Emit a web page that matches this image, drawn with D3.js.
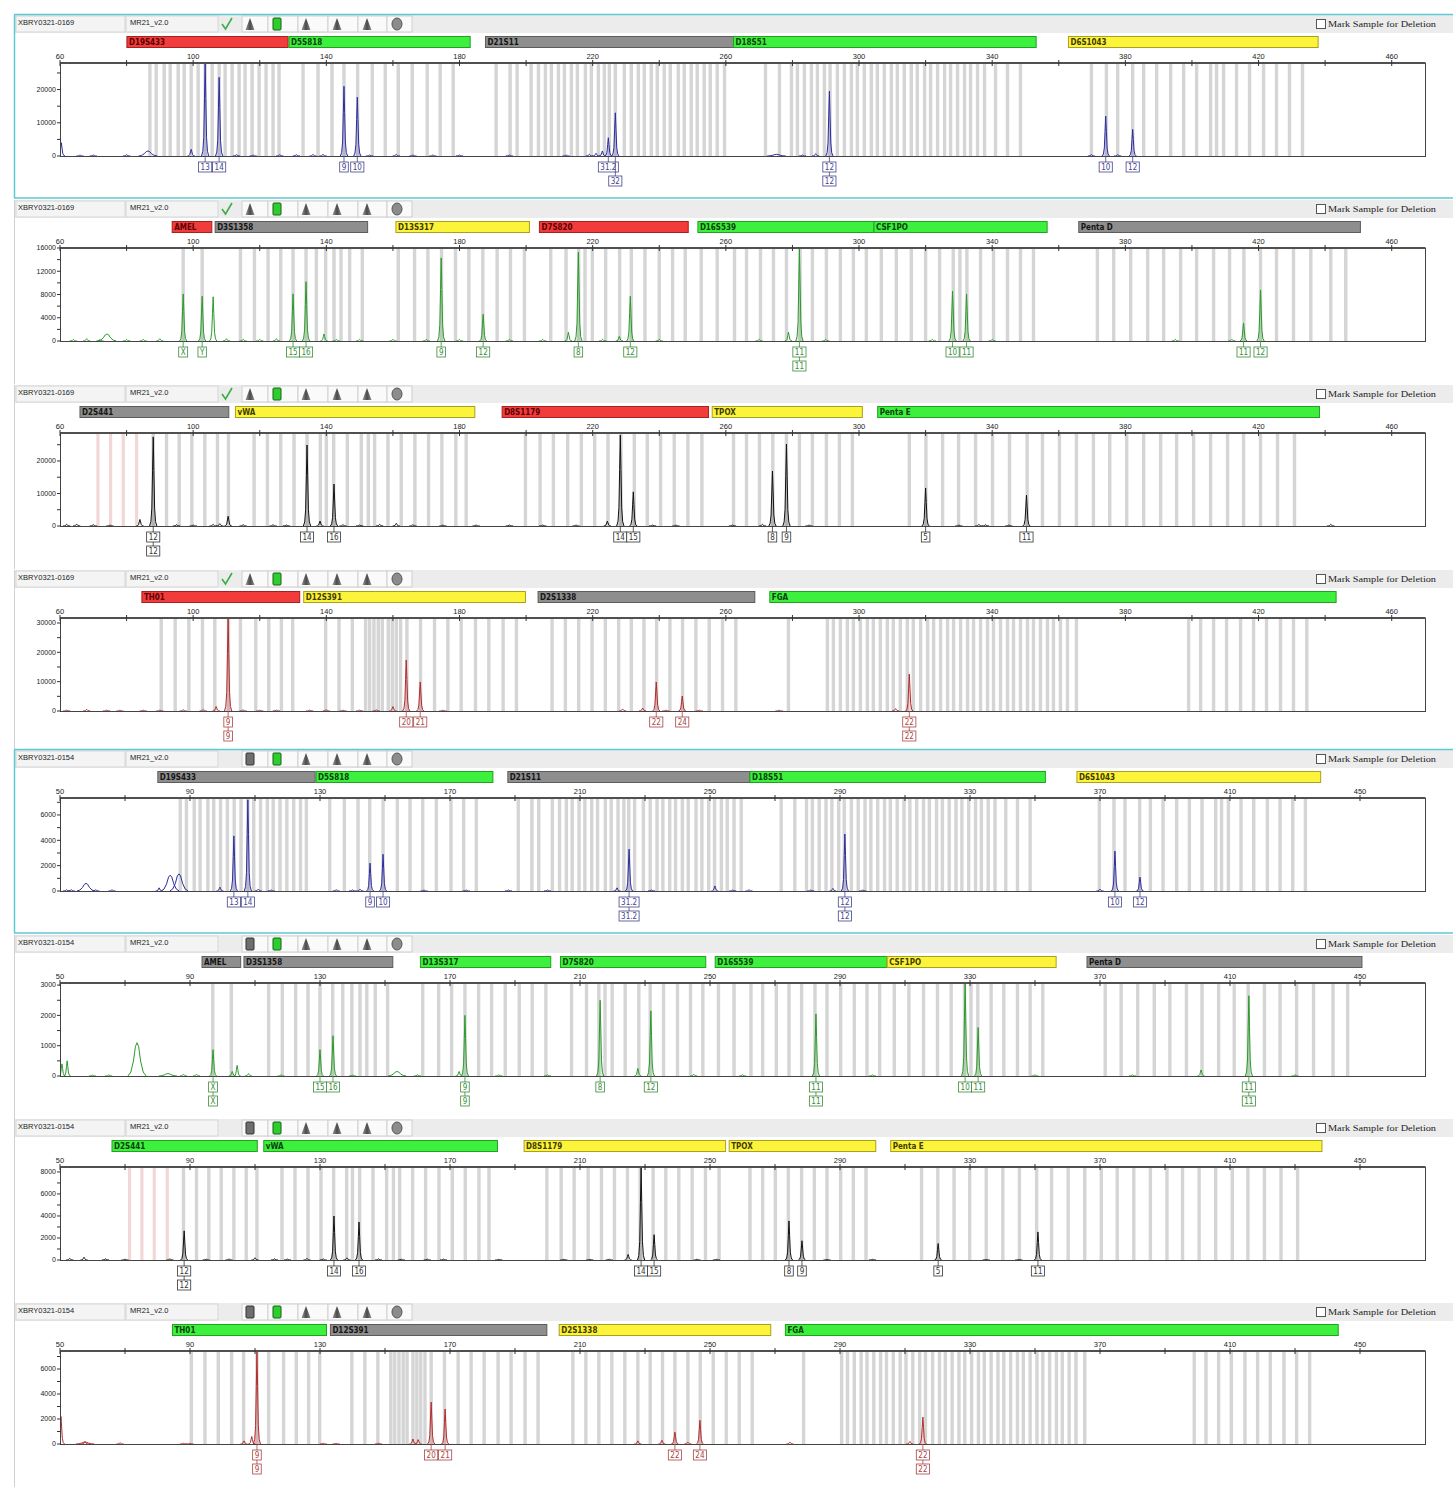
<!DOCTYPE html>
<html>
<head>
<meta charset="utf-8">
<script src="https://cdn.jsdelivr.net/npm/d3@7"></script>
<style>
  body { margin: 0; background: #fff; }
  svg { display: block; }
</style>
</head>
<body>
<script>
//global variables
var w = 1453;
var h = 1498;
var plotLeft = 60;
var plotRight = 1425;
var panelTops = [15, 200, 385, 570, 750, 935, 1119, 1303];

//sample + kit names
var sampleNames = ["XBRY0321-0169", "XBRY0321-0169", "XBRY0321-0169", "XBRY0321-0169",
                   "XBRY0321-0154", "XBRY0321-0154", "XBRY0321-0154", "XBRY0321-0154"];
var kitName = "MR21_v2.0";

//x axis (size in bp)
var xDomainA = [60, 470];
var xDomainB = [50, 470];
var xLabelsA = [60, 100, 140, 180, 220, 260, 300, 340, 380, 420, 460];
var xLabelsB = [50, 90, 130, 170, 210, 250, 290, 330, 370, 410, 450];

//y axis (RFU)
var yMaxes = [28000, 16000, 28600, 31700, 7340, 3070, 8450, 7440];
var yLabels1 = [0, 10000, 20000];
var yLabels2 = [0, 4000, 8000, 12000, 16000];
var yLabels3 = [0, 10000, 20000];
var yLabels4 = [0, 10000, 20000, 30000];
var yLabels5 = [0, 2000, 4000, 6000];
var yLabels6 = [0, 1000, 2000, 3000];
var yLabels7 = [0, 2000, 4000, 6000, 8000];
var yLabels8 = [0, 2000, 4000, 6000];

//markers per dye channel: [name, start bp, end bp]
var markersBlue = [["D19S433", 80.1, 128.5], ["D5S818", 128.8, 183.2], ["D21S11", 187.8, 262.3],
                   ["D18S51", 262.3, 353.2], ["D6S1043", 362.9, 437.9]];
var markersGreen = [["AMEL", 93.7, 105.6], ["D3S1358", 106.6, 152.4], ["D13S317", 160.9, 201.0],
                    ["D7S820", 204.0, 248.7], ["D16S539", 251.6, 304.5], ["CSF1PO", 304.5, 356.5],
                    ["Penta D", 366.0, 450.6]];
var markersBlack = [["D2S441", 66.0, 110.7], ["vWA", 112.7, 184.6], ["D8S1179", 192.8, 254.8],
                    ["TPOX", 255.9, 301.0], ["Penta E", 305.6, 438.3]];
var markersRed = [["TH01", 84.6, 132.0], ["D12S391", 133.2, 199.8], ["D2S1338", 203.6, 268.7],
                  ["FGA", 273.2, 443.3]];

//marker status colours per panel
var markerColors1 = ["red", "green", "gray", "green", "yellow"];
var markerColors2 = ["red", "gray", "yellow", "red", "green", "green", "gray"];
var markerColors3 = ["gray", "yellow", "red", "yellow", "green"];
var markerColors4 = ["red", "yellow", "gray", "green"];
var markerColors5 = ["gray", "green", "gray", "green", "yellow"];
var markerColors6 = ["gray", "gray", "green", "green", "green", "yellow", "gray"];
var markerColors7 = ["green", "green", "yellow", "yellow", "yellow"];
var markerColors8 = ["green", "gray", "yellow", "green"];

//allele bins (bp) per dye channel
var binsBlue = [87.0, 88.9, 91.3, 93.1, 95.5, 97.3, 99.4, 101.5, 103.6, 105.7, 107.8, 109.6, 111.7, 113.8,
  115.6, 117.7, 119.8, 121.9, 124.0, 125.8,
  133.0, 137.5, 141.7, 145.3, 149.4, 153.8, 157.7, 161.6, 165.8, 170.3, 174.2, 178.1,
  191.0, 195.2, 197.3, 201.5, 203.7, 205.8, 207.6, 209.7, 211.5, 213.6, 215.4, 217.8, 219.6, 221.7,
  223.5, 225.0, 226.8, 229.5, 231.6, 233.7, 235.5, 237.6, 239.4, 241.5, 243.3, 245.7, 247.5, 249.6,
  251.4, 253.5, 255.3, 257.4, 259.6,
  271.9, 276.1, 279.7, 281.5, 283.6, 285.7, 287.5, 289.6, 291.3, 293.5, 295.6, 297.7, 299.5, 301.6,
  303.7, 305.5, 307.6, 309.7, 311.5, 313.6, 315.7, 317.5, 319.7, 321.5, 323.6, 325.7, 327.5, 329.6,
  331.7, 333.5, 335.6, 337.7, 341.0, 344.6, 348.5,
  369.8, 374.3, 377.7, 382.2, 385.5, 389.4, 393.6, 397.5, 401.4, 405.6, 407.4, 409.5, 413.4, 417.3,
  421.5, 425.4, 429.3, 433.2];
var binsGreen = [97.0, 102.7,
  114.2, 118.4, 122.5, 126.3, 130.0, 133.9, 137.0, 139.8, 142.3, 144.4, 147.0, 150.8,
  161.6, 166.5, 170.5, 174.6, 178.8, 182.8, 187.0, 191.3, 195.3, 199.5,
  207.4, 212.0, 215.8, 217.7, 219.9, 223.9, 228.1, 231.6, 235.7, 240.0, 244.0, 247.8,
  252.6, 257.4, 262.6, 266.2, 270.4, 274.3, 278.2, 282.3, 286.0, 290.2, 294.4, 298.3, 302.2,
  306.7, 311.2, 315.7, 320.0, 324.2, 328.3, 330.3, 332.4, 336.5, 340.4, 344.6, 348.5, 352.4,
  371.6, 376.5, 381.6, 386.7, 391.5, 396.6, 401.4, 406.5, 411.3, 415.6, 420.6, 425.4, 430.5, 435.7,
  441.7, 446.2];
var binsBlackVirtual = [71.4, 75.2, 79.0, 83.0];
var binsBlack = [88.0, 92.0, 95.8, 99.6, 103.5, 107.3, 110.6,
  118.3, 122.3, 126.3, 130.3, 134.2, 138.2, 140.0, 142.2, 146.3, 150.5, 152.6, 154.5, 158.5, 162.5,
  166.6, 170.7, 174.7, 178.9, 182.0,
  199.8, 204.2, 208.2, 212.5, 216.6, 220.6, 224.6, 228.5, 232.5, 236.4, 240.4, 244.5, 248.6, 252.8,
  262.3, 266.2, 270.1, 274.1, 278.2, 282.1, 286.0, 290.2, 294.1, 298.0,
  315.1, 320.1, 325.1, 329.9, 335.0, 340.1, 345.2, 350.5, 355.1, 360.2, 365.3, 370.4, 375.3, 380.4,
  385.5, 390.6, 395.4, 400.5, 405.6, 410.7, 415.5, 420.6, 425.7, 430.8];
var binsRed = [90.4, 94.6, 98.7, 102.8, 106.5, 110.6, 114.2, 118.8, 122.7, 126.5, 129.9,
  139.8, 143.8, 147.8, 151.8, 153.0, 154.3, 155.6, 156.8, 158.6, 159.8, 161.0, 162.3, 164.2, 168.3,
  172.5, 176.5, 180.5, 184.8, 188.8, 193.1, 197.1,
  207.8, 211.8, 215.8, 219.8, 223.8, 227.8, 231.6, 235.4, 239.2, 243.2, 247.0, 251.0, 255.0, 259.0, 263.0,
  278.8, 290.5, 292.3, 294.4, 296.5, 298.3, 300.4, 302.5, 304.3, 306.4, 308.5, 310.3, 312.4, 314.5,
  316.3, 318.5, 320.6, 322.4, 324.5, 326.6, 328.4, 330.5, 332.6, 334.4, 336.5, 338.6, 340.4, 342.5,
  344.6, 346.4, 348.5, 350.6, 352.4, 354.5, 356.6, 358.4, 360.5, 362.6, 365.3,
  399.0, 402.6, 406.5, 410.4, 414.6, 418.5, 422.4, 426.6, 430.5, 434.5];

//peaks per panel: [size bp, height RFU, allele call, second call]
var peaks1 = [[60.4, 4000], [99.4, 2000], [103.6, 28000, "13"], [107.8, 23700, "14"],
  [145.3, 21000, "9"], [149.3, 17700, "10"], [222.9, 1500], [224.7, 5500, "31.2"], [226.8, 13000, "", "32"],
  [291.1, 19500, "12", "12"], [374.1, 12000, "10"], [382.2, 8000, "12"],
  [66, 300], [70, 300], [80, 400], [113, 400], [118, 300], [126, 400], [131, 400], [136, 500], [139, 500],
  [153, 300], [161, 500], [166, 300], [172, 300], [180, 300], [195, 300], [212, 300], [219, 500],
  [221, 800], [283, 300], [287, 700], [369.8, 400], [377.7, 400]];
var bumps1 = [[86.4, 1500], [275.2, 500]];

var peaks2 = [[97.0, 8100, "X"], [102.7, 7700, "Y"], [106.0, 7600], [130.0, 8100, "15"],
  [133.9, 10200, "16"], [139.3, 1200], [174.5, 14300, "9"], [187.1, 4600, "12"], [212.7, 1500],
  [215.7, 15300, "8"], [228.0, 800], [231.3, 7700, "12"], [278.8, 1500], [282.1, 15800, "11", "11"],
  [328.1, 8600, "10"], [332.3, 8100, "11"], [415.5, 3100, "11"], [420.6, 8800, "12"],
  [64, 300], [68, 400], [72, 300], [80, 300], [85, 300], [90, 400], [110, 400], [115, 300], [120, 300],
  [125, 400], [143, 300], [150, 300], [160, 300], [170, 300], [180, 300], [195, 300], [205, 300],
  [223, 300], [240, 300], [270, 300], [290, 300], [322, 300], [340, 300], [395, 300], [412, 300]];
var bumps2 = [[74.1, 1200]];

var peaks3 = [[84.0, 2000], [88.0, 27400, "12", "12"], [110.5, 3000], [134.2, 24900, "14"],
  [138.1, 1500], [142.3, 12900, "16"], [161.0, 800], [224.4, 1500], [228.3, 28000, "14"],
  [232.2, 10500, "15"], [274.0, 16900, "8"], [278.2, 25200, "9"], [320.0, 11700, "5"],
  [350.3, 9500, "11"], [441.7, 500],
  [62, 500], [65, 600], [70, 400], [75, 300], [95, 400], [100, 300], [106, 500], [108, 700], [115, 400],
  [124, 400], [128, 300], [145, 400], [150, 300], [156, 500], [166, 400], [175, 300], [185, 300],
  [195, 300], [205, 300], [215, 300], [238, 300], [245, 300], [262, 300], [271, 500], [285, 300],
  [330, 300], [336, 500], [338, 400], [345, 300]];
var bumps3 = [];

var peaks4 = [[68.0, 600], [106.9, 1500], [110.5, 31700, "9", "9"], [160.0, 1500], [164.0, 17400, "20"],
  [168.2, 9900, "21"], [229.0, 700], [235.0, 1000], [239.1, 9900, "22"], [246.9, 5100, "24"],
  [311.0, 800], [315.1, 12600, "22", "22"],
  [62, 300], [74, 300], [78, 300], [85, 300], [90, 300], [97, 400], [103, 500], [115, 400], [120, 300],
  [125, 300], [135, 300], [140, 400], [145, 300], [150, 300], [155, 400], [175, 300], [242, 300],
  [252, 300], [276, 300]];
var bumps4 = [];

var peaks5 = [[99.2, 300], [103.5, 4350, "13"], [107.8, 7200, "14"], [142.3, 150], [145.4, 2200, "9"],
  [149.4, 2900, "10"], [221.4, 250], [225.1, 3300, "31.2", "31.2"], [251.5, 400], [287.8, 200],
  [291.5, 4500, "12", "12"], [370.0, 150], [374.6, 3150, "10"], [382.3, 1100, "12"],
  [52, 100], [53.5, 100], [61, 100], [66, 100], [80.5, 250], [111, 150], [115, 80], [135, 100],
  [140, 80], [162, 80], [175, 80], [188, 80], [200, 80], [232, 80], [257, 80], [262, 100], [281, 80],
  [297, 80]];
var bumps5 = [[58.0, 600], [83.9, 1250], [86.6, 1350]];

var peaks6 = [[50.6, 400], [52.2, 500], [97.1, 870, "X", "X"], [103.0, 150], [104.5, 350],
  [130.0, 870, "15"], [134.0, 1330, "16"], [172.8, 150], [174.6, 2000, "9", "9"], [216.2, 2500, "8"],
  [227.8, 250], [231.8, 2150, "12"], [282.6, 2050, "11", "11"], [328.5, 3100, "10"],
  [332.5, 1600, "11"], [401.1, 200], [415.8, 2650, "11", "11"],
  [60, 30], [65, 40], [88, 60], [92, 60], [108, 80], [118, 40], [140, 30], [160, 40], [185, 40],
  [200, 40], [245, 60], [260, 40], [300, 40], [350, 40], [380, 40], [430, 40]];
var bumps6 = [[73.7, 1100], [153.7, 150], [83.2, 80]];

var peaks7 = [[53, 150], [57.4, 250], [83.8, 100], [88.2, 2650, "12", "12"], [110, 200],
  [134.3, 4000, "14"], [138.3, 200], [142.0, 3450, "16"], [224.8, 500], [228.8, 8400, "14"],
  [232.8, 2300, "15"], [274.3, 3550, "8"], [278.3, 1750, "9"], [320.2, 1500, "5"], [350.9, 2550, "11"],
  [64, 100], [70, 80], [95, 80], [102, 100], [116, 100], [120, 80], [126, 150], [131, 100], [148, 100],
  [155, 80], [163, 80], [168, 80], [185, 60], [205, 60], [213, 60], [219, 80], [246, 80], [252, 60],
  [286, 60], [300, 60], [335, 50], [345, 50]];
var bumps7 = [];

var peaks8 = [[50.3, 2200], [57.7, 200], [68.5, 100], [106.6, 250], [109.0, 600], [110.6, 7400, "9", "9"],
  [158.6, 400], [160.2, 350], [164.2, 3350, "20"], [168.5, 2800, "21"], [227.8, 250], [235.2, 300],
  [239.2, 950, "22"], [243.2, 150], [246.9, 1900, "24"], [274.6, 150], [311.5, 200],
  [315.5, 2150, "22", "22"], [88, 60], [90, 60], [131, 60], [135, 50], [148, 60]];
var bumps8 = [[57.7, 150]];

//dye channels: blue, green, black, red
var channelMarkers = [markersBlue, markersGreen, markersBlack, markersRed];
var channelBins = [binsBlue, binsGreen, binsBlack, binsRed];
var traceColors = ["#2c2c9e", "#2a9a2a", "#111111", "#b42a2a"];
var labelColors = ["#44448a", "#3a8a3a", "#333333", "#a84444"];
var fillColors = { red:    { fill: "#f23c3c", stroke: "#a52020", text: "#5a0000" },
                   green:  { fill: "#3ef03e", stroke: "#22a022", text: "#0a400a" },
                   gray:   { fill: "#8e8e8e", stroke: "#5c5c5c", text: "#151515" },
                   yellow: { fill: "#fcf43a", stroke: "#aaa020", text: "#403a00" } };

//table of panels built from the arrays above
var panels = [
  { dye: 0, domain: xDomainA, xLabels: xLabelsA, yLabels: yLabels1, colors: markerColors1, peaks: peaks1, bumps: bumps1 },
  { dye: 1, domain: xDomainA, xLabels: xLabelsA, yLabels: yLabels2, colors: markerColors2, peaks: peaks2, bumps: bumps2 },
  { dye: 2, domain: xDomainA, xLabels: xLabelsA, yLabels: yLabels3, colors: markerColors3, peaks: peaks3, bumps: bumps3 },
  { dye: 3, domain: xDomainA, xLabels: xLabelsA, yLabels: yLabels4, colors: markerColors4, peaks: peaks4, bumps: bumps4 },
  { dye: 0, domain: xDomainB, xLabels: xLabelsB, yLabels: yLabels5, colors: markerColors5, peaks: peaks5, bumps: bumps5 },
  { dye: 1, domain: xDomainB, xLabels: xLabelsB, yLabels: yLabels6, colors: markerColors6, peaks: peaks6, bumps: bumps6 },
  { dye: 2, domain: xDomainB, xLabels: xLabelsB, yLabels: yLabels7, colors: markerColors7, peaks: peaks7, bumps: bumps7 },
  { dye: 3, domain: xDomainB, xLabels: xLabelsB, yLabels: yLabels8, colors: markerColors8, peaks: peaks8, bumps: bumps8 }
];

//peak outline: offsets (bp) and fraction of height
var narrowShape = [[-1.1, 0], [-0.7, 0.05], [-0.42, 0.2], [-0.2, 0.62], [0, 1],
                   [0.2, 0.62], [0.42, 0.2], [0.7, 0.05], [1.1, 0]];
var broadShape = [[-2.8, 0], [-1.9, 0.12], [-1.1, 0.45], [-0.5, 0.88], [0, 1],
                  [0.5, 0.88], [1.1, 0.45], [1.9, 0.12], [2.8, 0]];

var sansFont = "'Liberation Sans', Arial, sans-serif";
var narrowFont = "'Liberation Sans Narrow', 'DejaVu Sans Condensed', 'Arial Narrow', sans-serif";

//Create SVG element
var svg = d3.select("body")
  .append("svg")
  .attr("width", w)
  .attr("height", h);

svg.append("rect").attr("width", w).attr("height", h).attr("fill", "#fff");

var defs = svg.append("defs");
var cone = defs.append("linearGradient").attr("id", "cone");
cone.append("stop").attr("offset", "0%").attr("stop-color", "#9a9a9a");
cone.append("stop").attr("offset", "50%").attr("stop-color", "#4a4a4a");
cone.append("stop").attr("offset", "100%").attr("stop-color", "#8a8a8a");

function drawHeader(g, t, i) {
  g.append("rect").attr("x", 15).attr("y", t).attr("width", 1438).attr("height", 18)
    .attr("fill", "#ececec");
  g.append("rect").attr("x", 16).attr("y", t + 1).attr("width", 109).attr("height", 16)
    .attr("fill", "#f4f4f4").attr("stroke", "#d6d6d6");
  g.append("rect").attr("x", 126).attr("y", t + 1).attr("width", 92).attr("height", 16)
    .attr("fill", "#f4f4f4").attr("stroke", "#d6d6d6");
  g.append("text").attr("x", 18).attr("y", t + 10).text(sampleNames[i])
    .attr("font-family", sansFont).attr("font-size", "7.5px").attr("fill", "#222");
  g.append("text").attr("x", 130).attr("y", t + 10).text(kitName)
    .attr("font-family", sansFont).attr("font-size", "7.5px").attr("fill", "#222");

  //tool icons
  var cellLefts = [242, 268, 298, 328, 358, 387];
  var cellRight = 412;
  cellLefts.forEach(function(cx, k) {
    var next = k < cellLefts.length - 1 ? cellLefts[k + 1] : cellRight;
    g.append("rect").attr("x", cx).attr("y", t + 1).attr("width", next - cx).attr("height", 16)
      .attr("fill", "#fafafa").attr("stroke", "#cfcfcf");
  });
  var cy = t + 9;
  if (i < 4) {
    g.append("path").attr("d", "M222," + cy + " L225.5," + (cy + 5) + " L232," + (cy - 6))
      .attr("fill", "none").attr("stroke", "#3cae45").attr("stroke-width", 1.6);
    cone_icon(g, 250, cy);
  } else {
    g.append("rect").attr("x", 246).attr("y", cy - 6).attr("width", 8).attr("height", 12)
      .attr("fill", "#6e6e6e").attr("stroke", "#333").attr("rx", 1);
  }
  g.append("rect").attr("x", 273).attr("y", cy - 6).attr("width", 8).attr("height", 12)
    .attr("fill", "#2ccf2c").attr("stroke", "#1d5e1d").attr("rx", 1);
  cone_icon(g, 306, cy);
  cone_icon(g, 337, cy);
  cone_icon(g, 367, cy);
  g.append("ellipse").attr("cx", 397).attr("cy", cy).attr("rx", 5).attr("ry", 6)
    .attr("fill", "#8c8c8c").attr("stroke", "#555");

  //deletion checkbox
  g.append("rect").attr("x", 1316.5).attr("y", t + 4.5).attr("width", 9).attr("height", 9)
    .attr("fill", "#fff").attr("stroke", "#555");
  g.append("text").attr("x", 1328).attr("y", t + 12).text("Mark Sample for Deletion")
    .attr("font-family", "'Liberation Serif', 'DejaVu Serif', serif").attr("font-size", "9px")
    .attr("textLength", 108).attr("lengthAdjust", "spacingAndGlyphs").attr("fill", "#222");
}

function cone_icon(g, cx, cy) {
  g.append("path")
    .attr("d", "M" + cx + "," + (cy - 6) + " L" + (cx + 4.5) + "," + (cy + 6) + " L" + (cx - 4.5) + "," + (cy + 6) + " Z")
    .attr("fill", "url(#cone)");
}

function drawPanel(p, i) {
  var t = panelTops[i];
  var g = svg.append("g");
  var top = t + 48;
  var base = t + 141;

  var xScale = d3.scaleLinear().domain(p.domain).range([plotLeft, plotRight]);
  var yScale = d3.scaleLinear().domain([0, yMaxes[i]]).range([base, top]);

  drawHeader(g, t, i);

  //panel frame
  if (i === 0 || i === 4) {
    g.append("line").attr("x1", 14).attr("x2", w).attr("y1", t - 0.5).attr("y2", t - 0.5)
      .attr("stroke", "#5fc8d2").attr("stroke-width", 1.5);
    g.append("line").attr("x1", 14).attr("x2", w).attr("y1", t + 183).attr("y2", t + 183)
      .attr("stroke", "#5fc8d2").attr("stroke-width", 1.5);
    g.append("line").attr("x1", 14.5).attr("x2", 14.5).attr("y1", t).attr("y2", t + 183)
      .attr("stroke", "#5fc8d2").attr("stroke-width", 1.5);
  } else {
    g.append("line").attr("x1", 14.5).attr("x2", 14.5).attr("y1", t).attr("y2", t + 184)
      .attr("stroke", "#d0d0d0");
  }

  //marker bars
  var markers = channelMarkers[p.dye];
  markers.forEach(function(m, k) {
    var c = fillColors[p.colors[k]];
    g.append("rect")
      .attr("x", xScale(m[1])).attr("y", t + 21.5)
      .attr("width", xScale(m[2]) - xScale(m[1])).attr("height", 11)
      .attr("fill", c.fill).attr("stroke", c.stroke);
    g.append("text")
      .attr("x", xScale(m[1]) + 2).attr("y", t + 30)
      .text(m[0])
      .attr("font-family", narrowFont).attr("font-weight", "bold")
      .attr("font-size", "8px").attr("fill", c.text);
  });

  //plot background
  g.append("rect").attr("x", plotLeft).attr("y", top).attr("width", plotRight - plotLeft)
    .attr("height", base - top).attr("fill", "#fff");

  //bins
  if (p.dye === 2) {
    g.selectAll("rect.vbin").data(binsBlackVirtual).enter().append("rect")
      .attr("class", "vbin")
      .attr("x", function(d) { return xScale(d) - 1.6; })
      .attr("y", top).attr("width", 3.2).attr("height", base - top)
      .attr("fill", "#f3d7d7");
  }
  g.selectAll("rect.bin").data(channelBins[p.dye]).enter().append("rect")
    .attr("class", "bin")
    .attr("x", function(d) { return xScale(d) - 1.7; })
    .attr("y", top).attr("width", 3.4).attr("height", base - top)
    .attr("fill", "#d5d5d5");

  //clip the trace to the plot
  defs.append("clipPath").attr("id", "clip" + i).append("rect")
    .attr("x", plotLeft).attr("y", top).attr("width", plotRight - plotLeft).attr("height", base - top + 1);
  var trace = g.append("g").attr("clip-path", "url(#clip" + i + ")");

  var line = d3.line()
    .x(function(d) { return xScale(d[0]); })
    .y(function(d) { return yScale(d[1]); });
  var area = d3.area()
    .x(function(d) { return xScale(d[0]); })
    .y0(base)
    .y1(function(d) { return yScale(d[1]); });

  function outline(pk, shape) {
    return shape.map(function(s) { return [pk[0] + s[0], pk[1] * s[1]]; });
  }

  //shaded called peaks
  trace.selectAll("path.fill").data(p.peaks.filter(function(d) { return d.length > 2; }))
    .enter().append("path").attr("class", "fill")
    .attr("d", function(d) { return area(outline(d, narrowShape)); })
    .attr("fill", traceColors[p.dye]).attr("fill-opacity", 0.18);

  trace.selectAll("path.bump").data(p.bumps).enter().append("path").attr("class", "bump")
    .attr("d", function(d) { return line(outline(d, broadShape)); })
    .attr("fill", "none").attr("stroke", traceColors[p.dye]).attr("stroke-width", 1);

  trace.selectAll("path.peak").data(p.peaks).enter().append("path").attr("class", "peak")
    .attr("d", function(d) { return line(outline(d, narrowShape)); })
    .attr("fill", "none").attr("stroke", traceColors[p.dye]).attr("stroke-width", 1);

  //plot border
  g.append("rect").attr("x", plotLeft + 0.5).attr("y", top).attr("width", plotRight - plotLeft)
    .attr("height", base - top + 0.5).attr("fill", "none").attr("stroke", "#444").attr("stroke-width", 1);
  g.append("line").attr("x1", plotLeft).attr("x2", plotRight).attr("y1", top).attr("y2", top)
    .attr("stroke", "#505050").attr("stroke-width", 2);

  //x ticks and labels
  var xl = p.xLabels;
  var xMinor = xl.map(function(v, k) { return k < xl.length - 1 ? (v + xl[k + 1]) / 2 : v + (v - xl[k - 1]) / 2; })
    .filter(function(v) { return v < p.domain[1]; });
  g.selectAll("line.xt").data(xl.concat(xMinor)).enter().append("line").attr("class", "xt")
    .attr("x1", function(d) { return xScale(d); }).attr("x2", function(d) { return xScale(d); })
    .attr("y1", top - 3).attr("y2", top + 3)
    .attr("stroke", "#333").attr("stroke-width", 1);
  g.selectAll("text.xl").data(xl).enter().append("text").attr("class", "xl")
    .attr("x", function(d) { return xScale(d); }).attr("y", t + 44)
    .attr("text-anchor", "middle")
    .text(function(d) { return d; })
    .attr("font-family", sansFont).attr("font-size", "7.5px").attr("fill", "#222");

  //y ticks and labels
  var yl = p.yLabels;
  var step = yl[1] - yl[0];
  var yMinor = yl.map(function(v) { return v + step / 2; })
    .filter(function(v) { return v < yMaxes[i]; });
  g.selectAll("line.yt").data(yl.concat(yMinor)).enter().append("line").attr("class", "yt")
    .attr("x1", plotLeft - 3).attr("x2", plotLeft + 1)
    .attr("y1", function(d) { return yScale(d); }).attr("y2", function(d) { return yScale(d); })
    .attr("stroke", "#333");
  g.selectAll("text.yl").data(yl).enter().append("text").attr("class", "yl")
    .attr("x", plotLeft - 4).attr("y", function(d) { return yScale(d); })
    .attr("dy", "0.33em").attr("text-anchor", "end")
    .text(function(d) { return d; })
    .attr("font-family", sansFont).attr("font-size", "7px").attr("fill", "#222");

  //allele call boxes
  var called = p.peaks.filter(function(d) { return d.length > 2; });
  called.forEach(function(d) {
    var cx = xScale(d[0]);
    var rows = [d[2], d[3]];
    var lastTop = base;
    rows.forEach(function(lab, r) {
      if (!lab) return;
      var by = base + 6 + r * 14;
      g.append("line").attr("x1", cx).attr("x2", cx).attr("y1", lastTop).attr("y2", by)
        .attr("stroke", labelColors[p.dye]).attr("stroke-width", 0.8);
      var txt = g.append("text").attr("x", cx).attr("y", by + 8)
        .attr("text-anchor", "middle").text(lab)
        .attr("font-family", narrowFont).attr("font-size", "8px").attr("fill", labelColors[p.dye]);
      var tw = txt.node().getComputedTextLength();
      g.insert("rect", function() { return txt.node(); })
        .attr("x", cx - tw / 2 - 2).attr("y", by).attr("width", tw + 4).attr("height", 10)
        .attr("fill", "#fff").attr("stroke", labelColors[p.dye]).attr("stroke-width", 0.8);
      lastTop = by + 10;
    });
  });
}

panels.forEach(function(p, i) { drawPanel(p, i); });
</script>
</body>
</html>
